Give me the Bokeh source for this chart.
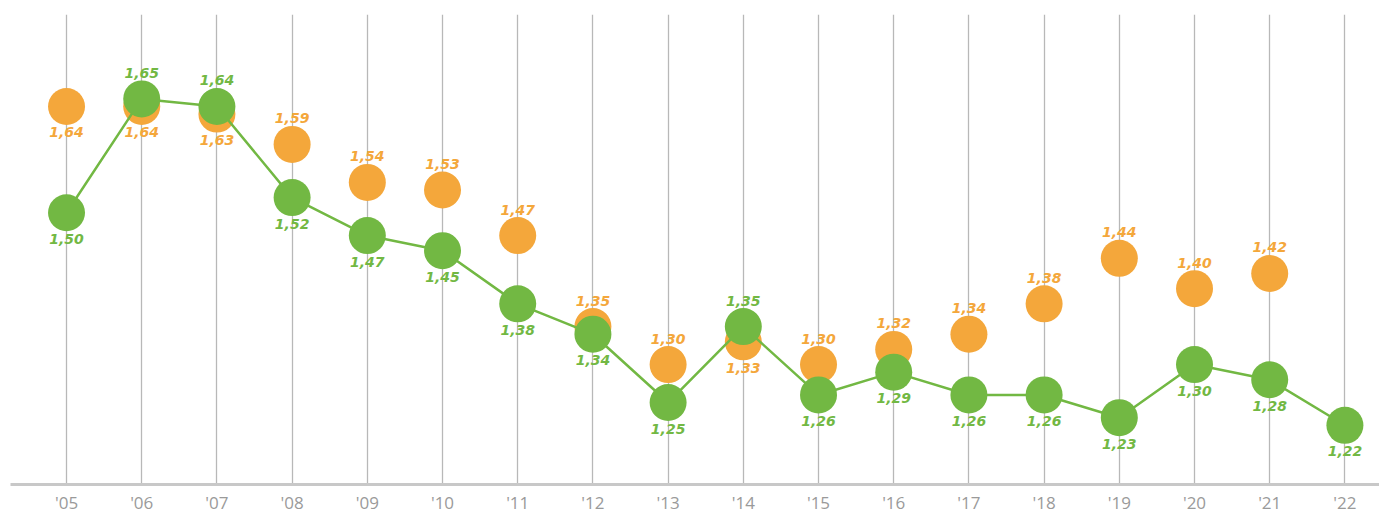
from bokeh.plotting import figure
from bokeh.models import ColumnDataSource, FixedTicker, Range1d
from bokeh.core.properties import value
from bokeh.embed import file_html
from bokeh.resources import INLINE

years = ["'05", "'06", "'07", "'08", "'09", "'10", "'11", "'12", "'13",
         "'14", "'15", "'16", "'17", "'18", "'19", "'20", "'21", "'22"]
orange_vals = [1.64, 1.64, 1.63, 1.59, 1.54, 1.53, 1.47, 1.35, 1.30,
               1.33, 1.30, 1.32, 1.34, 1.38, 1.44, 1.40, 1.42, None]
green_vals = [1.50, 1.65, 1.64, 1.52, 1.47, 1.45, 1.38, 1.34, 1.25,
              1.35, 1.26, 1.29, 1.26, 1.26, 1.23, 1.30, 1.28, 1.22]
# label side: 1 = above the dot, -1 = below
orange_side = [-1, -1, -1, 1, 1, 1, 1, 1, 1, -1, 1, 1, 1, 1, 1, 1, 1, 1]
green_side = [-1, 1, 1, -1, -1, -1, -1, -1, -1, 1, -1, -1, -1, -1, -1, -1, -1, -1]

ORANGE = "#f4a73b"
GREEN = "#72b843"

p = figure(width=1379, height=516, output_backend="svg", toolbar_location=None,
           x_range=Range1d(-0.745, 17.46), y_range=Range1d(1.142, 1.7612),
           min_border_left=10, min_border_right=0, min_border_top=14, min_border_bottom=30)
p.outline_line_color = None
p.background_fill_color = "white"
p.border_fill_color = "white"

xs = list(range(len(years)))

# vertical gridlines
p.ygrid.visible = False
p.xgrid.ticker = FixedTicker(ticks=xs)
p.xgrid.grid_line_color = "#b8b8b8"
p.xgrid.grid_line_width = 1.3

p.yaxis.visible = False
p.xaxis.ticker = FixedTicker(ticks=xs)
p.xaxis.major_label_overrides = {i: y for i, y in enumerate(years)}
p.xaxis.major_tick_line_color = None
p.xaxis.major_tick_out = 0
p.xaxis.major_tick_in = 0
p.xaxis.minor_tick_line_color = None
p.xaxis.minor_tick_out = 0
p.xaxis.axis_line_color = "#c8c8c8"
p.xaxis.axis_line_width = 3
p.xaxis.major_label_text_color = "#9a9a9a"
p.xaxis.major_label_text_font = "Open Sans"
p.xaxis.major_label_text_font_size = "17px"
p.xaxis.major_label_standoff = 6

ox = [x for x, v in zip(xs, orange_vals) if v is not None]
ov = [v for v in orange_vals if v is not None]
oside = [s for s, v in zip(orange_side, orange_vals) if v is not None]
osrc = ColumnDataSource(dict(x=ox, y=ov,
                             lbl=[f"{v:.2f}".replace(".", ",") for v in ov],
                             dy=[-26 * s for s in oside]))
gsrc = ColumnDataSource(dict(x=xs, y=green_vals,
                             lbl=[f"{v:.2f}".replace(".", ",") for v in green_vals],
                             dy=[-26 * s for s in green_side]))

p.scatter("x", "y", source=osrc, size=37, fill_color=ORANGE, line_color=None)
p.line("x", "y", source=gsrc, line_color=GREEN, line_width=2.5)
p.scatter("x", "y", source=gsrc, size=37, fill_color=GREEN, line_color=None)

for src, col in ((osrc, ORANGE), (gsrc, GREEN)):
    p.text("x", "y", text="lbl", source=src, y_offset="dy",
           text_align="center", text_baseline="middle",
           text_color=col, text_font=value("DejaVu Sans"),
           text_font_style="bold italic", text_font_size="14px")

open("out.html", "w").write(file_html(p, INLINE))
